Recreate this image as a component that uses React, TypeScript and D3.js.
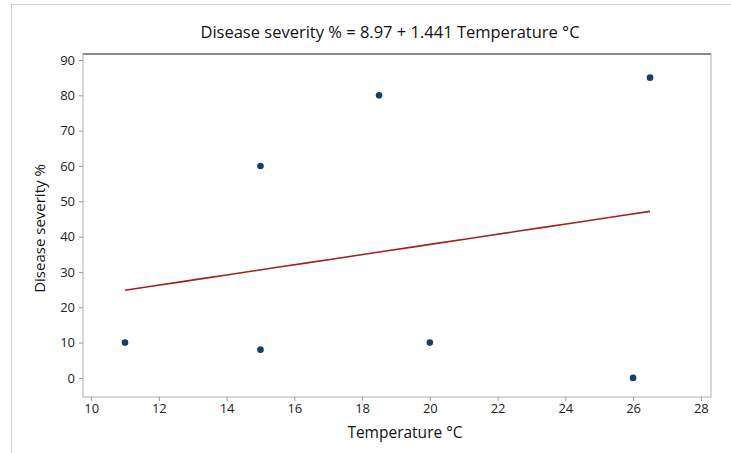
import React, { useRef, useEffect } from 'react';
import * as d3 from 'd3';

// observed data
const temperature = [11, 15, 15, 18.5, 20, 26, 26.5];
const severity = [10, 60, 8, 80, 10, 0, 85];

// fitted line: severity = 8.97 + 1.441 * temperature
const intercept = 8.97;
const slope = 1.441;

const xTicks = [10, 12, 14, 16, 18, 20, 22, 24, 26, 28];
const yTicks = [0, 10, 20, 30, 40, 50, 60, 70, 80, 90];

const title = 'Disease severity % = 8.97 + 1.441 Temperature °C';
const xLabel = 'Temperature °C';
const yLabel = 'Disease severity %';

const W = 731;
const H = 453;
const FONT = '"Open Sans", "Noto Sans", sans-serif';

export default function App() {
  const ref = useRef<SVGSVGElement | null>(null);

  useEffect(() => {
    if (!ref.current) return;
    const svg = d3.select(ref.current);
    svg.selectAll('*').remove();

    const left = 83, right = 711, top = 54, bottom = 397;

    const x = d3.scaleLinear().domain([9.76, 28.3]).range([left, right]);
    const y = d3.scaleLinear().domain([-5.4, 91.7]).range([bottom, top]);

    svg.append('rect').attr('width', W).attr('height', H).attr('fill', '#fff');

    // outer frame
    svg
      .append('rect')
      .attr('x', 11.5)
      .attr('y', 4.5)
      .attr('width', W + 20)
      .attr('height', H + 20)
      .attr('fill', 'none')
      .attr('stroke', '#d4d4d4');

    // title
    svg
      .append('text')
      .attr('x', 390)
      .attr('y', 38)
      .attr('text-anchor', 'middle')
      .attr('font-family', FONT)
      .attr('font-size', 16.5)
      .attr('fill', '#111')
      .text(title);

    // plot area
    svg
      .append('rect')
      .attr('x', left)
      .attr('y', top)
      .attr('width', right - left)
      .attr('height', bottom - top)
      .attr('fill', '#fff')
      .attr('stroke', '#bdbdbd')
      .attr('stroke-width', 1.2);
    svg
      .append('line')
      .attr('x1', left)
      .attr('x2', right)
      .attr('y1', top)
      .attr('y2', top)
      .attr('stroke', '#8a8a8a')
      .attr('stroke-width', 2);

    // axes
    const yAxis = svg
      .append('g')
      .attr('transform', `translate(${left},0)`)
      .call(d3.axisLeft(y).tickValues(yTicks).tickSize(4).tickPadding(4));
    const xAxis = svg
      .append('g')
      .attr('transform', `translate(0,${bottom})`)
      .call(d3.axisBottom(x).tickValues(xTicks).tickSize(4).tickPadding(3));

    [yAxis, xAxis].forEach((g) => {
      g.select('.domain').remove();
      g.selectAll('line').attr('stroke', '#9a9a9a');
      g.selectAll('text')
        .attr('font-family', FONT)
        .attr('font-size', 13)
        .attr('fill', '#222');
    });

    // axis titles
    svg
      .append('text')
      .attr('x', 405)
      .attr('y', 438)
      .attr('text-anchor', 'middle')
      .attr('font-family', FONT)
      .attr('font-size', 15.5)
      .attr('fill', '#111')
      .text(xLabel);
    svg
      .append('text')
      .attr('transform', `translate(45,${(top + bottom) / 2 + 3}) rotate(-90)`)
      .attr('text-anchor', 'middle')
      .attr('font-family', FONT)
      .attr('font-size', 15)
      .attr('fill', '#111')
      .text(yLabel);

    // fitted line
    const xMin = d3.min(temperature) as number;
    const xMax = d3.max(temperature) as number;
    const fit = d3.range(0, 21).map((i) => {
      const t = xMin + ((xMax - xMin) * i) / 20;
      return [t, intercept + slope * t] as [number, number];
    });
    const line = d3
      .line<[number, number]>()
      .x((d) => x(d[0]))
      .y((d) => y(d[1]));
    svg
      .append('path')
      .datum(fit)
      .attr('d', line)
      .attr('fill', 'none')
      .attr('stroke', '#9b2320')
      .attr('stroke-width', 1.6);

    // points
    svg
      .append('g')
      .selectAll('circle')
      .data(temperature)
      .enter()
      .append('circle')
      .attr('cx', (d) => x(d))
      .attr('cy', (d, i) => y(severity[i]))
      .attr('r', 3.3)
      .attr('fill', '#123f6e');
  }, []);

  return (
    <svg
      ref={ref}
      width={W}
      height={H}
      style={{ position: 'absolute', left: 0, top: 0 }}
    />
  );
}
